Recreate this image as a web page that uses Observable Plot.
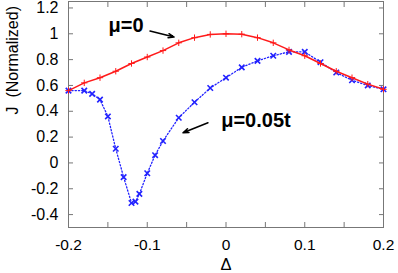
<!DOCTYPE html>
<html><head><meta charset="utf-8">
<script src="https://cdn.jsdelivr.net/npm/d3@7"></script>
<script src="https://cdn.jsdelivr.net/npm/@observablehq/plot@0.6"></script>
<style>body{margin:0;background:#fff}</style>
</head><body><div id="chart"></div>
<script>
// μ=0 series
const delta0 = [-0.2,-0.18,-0.16,-0.14,-0.12,-0.1,-0.08,-0.06,-0.04,-0.02,0,0.02,0.04,0.06,0.08,0.1,0.12,0.14,0.16,0.18,0.2];
const j0 = [0.56,0.62,0.66,0.71,0.77,0.82,0.87,0.93,0.97,0.995,1.0,0.997,0.97,0.93,0.875,0.83,0.77,0.71,0.66,0.61,0.57];
// μ=0.05t series
const delta1 = [-0.2,-0.18,-0.17,-0.16,-0.15,-0.14,-0.13,-0.12,-0.115,-0.11,-0.1,-0.09,-0.08,-0.06,-0.04,-0.02,0,0.02,0.04,0.06,0.08,0.1,0.12,0.14,0.16,0.18,0.2];
const j1 = [0.56,0.56,0.535,0.49,0.36,0.11,-0.11,-0.31,-0.30,-0.24,-0.08,0.06,0.17,0.35,0.47,0.58,0.66,0.74,0.79,0.83,0.86,0.86,0.78,0.70,0.64,0.60,0.57];
// axes
const xTicks = [-0.2,-0.15,-0.1,-0.05,0,0.05,0.1,0.15,0.2];
const xLabels = [-0.2,-0.1,0,0.1,0.2];
const yTicks = [-0.4,-0.2,0,0.2,0.4,0.6,0.8,1,1.2];
const xTitle = "Δ";
const yTitle = "J  (Normalized)";
// annotations
const noteText = ["μ=0","μ=0.05t"];
const noteX = [-0.127,0.038];
const noteY = [1.06,0.33];
const arrowX1 = [-0.0965,-0.0229];
const arrowY1 = [1.021,0.311];
const arrowX2 = [-0.066,-0.0546];
const arrowY2 = [0.975,0.234];

const s0 = delta0.map((d,i)=>({x:d,y:j0[i]}));
const s1 = delta1.map((d,i)=>({x:d,y:j1[i]}));
const notes = noteText.map((t,i)=>({t,x:noteX[i],y:noteY[i]}));
const arrows = arrowX1.map((d,i)=>({x1:d,y1:arrowY1[i],x2:arrowX2[i],y2:arrowY2[i]}));
const fmt = d => String(d);
const axisColor = "#777";

const chart = Plot.plot({
  width: 398, height: 273,
  marginLeft: 68, marginRight: 15, marginTop: 1, marginBottom: 46,
  style: {fontFamily: "'Liberation Sans', Arial, sans-serif", fontSize: "16px", background: "white", overflow: "visible"},
  x: {domain: [-0.2, 0.2]},
  y: {domain: [-0.5, 1.25]},
  marks: [
    Plot.frame({stroke: axisColor}),
    Plot.axisX(xTicks, {anchor: "bottom", tickSize: -5, stroke: axisColor, tickFormat: () => "", label: null}),
    Plot.axisX(xTicks, {anchor: "top", tickSize: -5, stroke: axisColor, tickFormat: () => "", label: null}),
    Plot.axisX(xLabels, {anchor: "bottom", tickSize: 0, tickPadding: 11, tickFormat: fmt, fill: "black", fontSize: 15.5, label: null}),
    Plot.axisY(yTicks, {anchor: "left", tickSize: -5, stroke: axisColor, tickFormat: () => "", label: null}),
    Plot.axisY(yTicks, {anchor: "right", tickSize: -5, stroke: axisColor, tickFormat: () => "", label: null}),
    Plot.axisY(yTicks, {anchor: "left", tickSize: 0, tickPadding: 10, tickFormat: fmt, fill: "black", fontSize: 16, label: null}),
    Plot.text([xTitle], {frameAnchor: "bottom", dy: 42, lineAnchor: "bottom", fontSize: 16.5, fill: "black"}),
    Plot.text([yTitle], {frameAnchor: "left", dx: -56, rotate: -90, fontSize: 16, fill: "black"}),
    Plot.line(s1, {x: "x", y: "y", stroke: "#2222ff", strokeWidth: 1.3, strokeDasharray: "1.3,2"}),
    Plot.dot(s1, {x: "x", y: "y", symbol: "times", r: 2.6, stroke: "#2222ff", strokeWidth: 1.6}),
    Plot.line(s0, {x: "x", y: "y", stroke: "#ff1a1a", strokeWidth: 1.5}),
    Plot.dot(s0, {x: "x", y: "y", symbol: "plus", r: 2.2, stroke: "#ff1a1a", strokeWidth: 1}),
    Plot.arrow(arrows, {x1: "x1", y1: "y1", x2: "x2", y2: "y2", stroke: "black", strokeWidth: 1.5, headLength: 6, headAngle: 40}),
    Plot.text(notes, {x: "x", y: "y", text: "t", fontSize: 20, fontWeight: "bold", fill: "black"})
  ]
});
document.getElementById("chart").appendChild(chart);
</script>
</body></html>
